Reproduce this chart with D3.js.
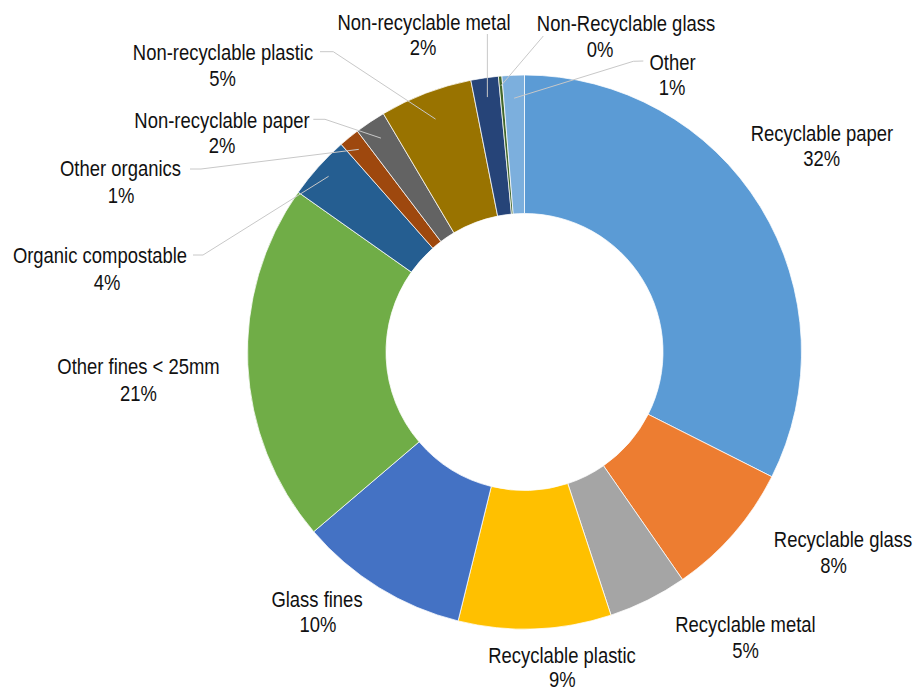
<!DOCTYPE html>
<html>
<head>
<meta charset="utf-8">
<script src="https://cdn.jsdelivr.net/npm/d3@7"></script>
<style>
  html, body { margin: 0; padding: 0; background: #ffffff; }
  svg { display: block; }
  text { font-family: "Liberation Sans", Arial, sans-serif; }
</style>
</head>
<body>
<svg id="chart" width="917" height="690"></svg>
<script>
// Waste composition by category, clockwise from 12 o'clock (percent of total)
const categories = [
  "Recyclable paper", "Recyclable glass", "Recyclable metal", "Recyclable plastic",
  "Glass fines", "Other fines < 25mm", "Organic compostable", "Other organics",
  "Non-recyclable paper", "Non-recyclable plastic", "Non-recyclable metal",
  "Non-Recyclable glass", "Other"
];
const shares = [32.4, 7.9, 4.6, 8.9, 9.9, 21.0, 3.7, 1.2, 1.8, 5.4, 1.6, 0.2, 1.3];
const sliceColors = [
  "#5B9BD5", "#ED7D31", "#A5A5A5", "#FFC000", "#4472C4", "#70AD47", "#255E91",
  "#9E480E", "#636363", "#997300", "#264478", "#43682B", "#7CAFDD"
];

// Label placement: centre of the name line and of the percent line,
// plus optional leader-line bend points (the last point is on the slice).
const labelLayout = [
  { name: [822, 133.3], pct: [821.7, 158.3] },
  { name: [843, 538.5], pct: [833.5, 564.7] },
  { name: [745.5, 624], pct: [745.5, 650] },
  { name: [562, 655], pct: [562.3, 678.5] },
  { name: [317, 598.5], pct: [318, 624] },
  { name: [138.5, 365.7], pct: [138.5, 392.5] },
  { name: [100, 255], pct: [107, 281.5], leader: [[193, 255], [203, 255]], reach: 0.95 },
  { name: [120.5, 168], pct: [121, 194.5], leader: [[190, 169], [201, 169]], reach: 0.945 },
  { name: [222, 120], pct: [222, 145], leader: [[313.3, 119.3], [325, 119.3]], reach: 0.93 },
  { name: [223, 52], pct: [222.5, 78], leader: [[320, 51.7], [333.3, 51.7]], reach: 0.90 },
  { name: [424, 21.7], pct: [423, 46.7], leader: [[null, 34]], reach: 0.93 },
  { name: [626, 23.3], pct: [600, 49], leader: [[543.3, 36]], reach: 0.965 },
  { name: [672.5, 61.5], pct: [672, 86.5], leader: [[643.3, 61], [633.3, 61.3]], reach: 0.917 }
];

const W = 917, H = 690;
const cx = 524.5, cy = 352;
const outerR = 277, innerR = 138.5;
const fontSize = 22.5;
const condense = 0.82;   // narrow face: horizontal squeeze of the glyphs

const svg = d3.select("#chart");
svg.append("rect").attr("width", W).attr("height", H).attr("fill", "#ffffff");

const data = categories.map((name, i) => ({ name, value: shares[i], color: sliceColors[i], layout: labelLayout[i] }));
const total = d3.sum(shares);
const pctFormat = v => Math.round(v / total * 100) + "%";

const pie = d3.pie().value(d => d.value).sort(null).startAngle(0).endAngle(2 * Math.PI);
const arcs = pie(data);
const arcGen = d3.arc().innerRadius(innerR).outerRadius(outerR);

const ring = svg.append("g").attr("transform", `translate(${cx},${cy})`);
ring.selectAll("path.slice")
  .data(arcs)
  .join("path")
  .attr("class", "slice")
  .attr("d", arcGen)
  .attr("fill", d => d.data.color)
  .attr("stroke", "#ffffff")
  .attr("stroke-width", 0.75);

// Leader lines from the outer labels to the middle of their slices
const lineGen = d3.line();
const leaders = svg.append("g");
arcs.forEach(d => {
  const lay = d.data.layout;
  if (!lay.leader) return;
  const mid = (d.startAngle + d.endAngle) / 2;
  const rr = outerR * lay.reach;
  const ax = cx + rr * Math.sin(mid);
  const ay = cy - rr * Math.cos(mid);
  const pts = lay.leader.map(p => [p[0] === null ? ax : p[0], p[1]]);
  pts.push([ax, ay]);
  leaders.append("path")
    .attr("d", lineGen(pts))
    .attr("fill", "none")
    .attr("stroke", "#c8c8c8")
    .attr("stroke-width", 1);
});

// Category name and percentage labels
const labels = svg.append("g")
  .attr("font-size", fontSize)
  .attr("fill", "#111111")
  .attr("text-anchor", "middle");

function addLine(pos, str) {
  labels.append("text")
    .attr("transform", `translate(${pos[0]},${pos[1] + fontSize * 0.358}) scale(${condense},1)`)
    .text(str);
}

arcs.forEach(d => {
  const lay = d.data.layout;
  addLine(lay.name, d.data.name);
  addLine(lay.pct, pctFormat(d.data.value));
});
</script>
</body>
</html>
